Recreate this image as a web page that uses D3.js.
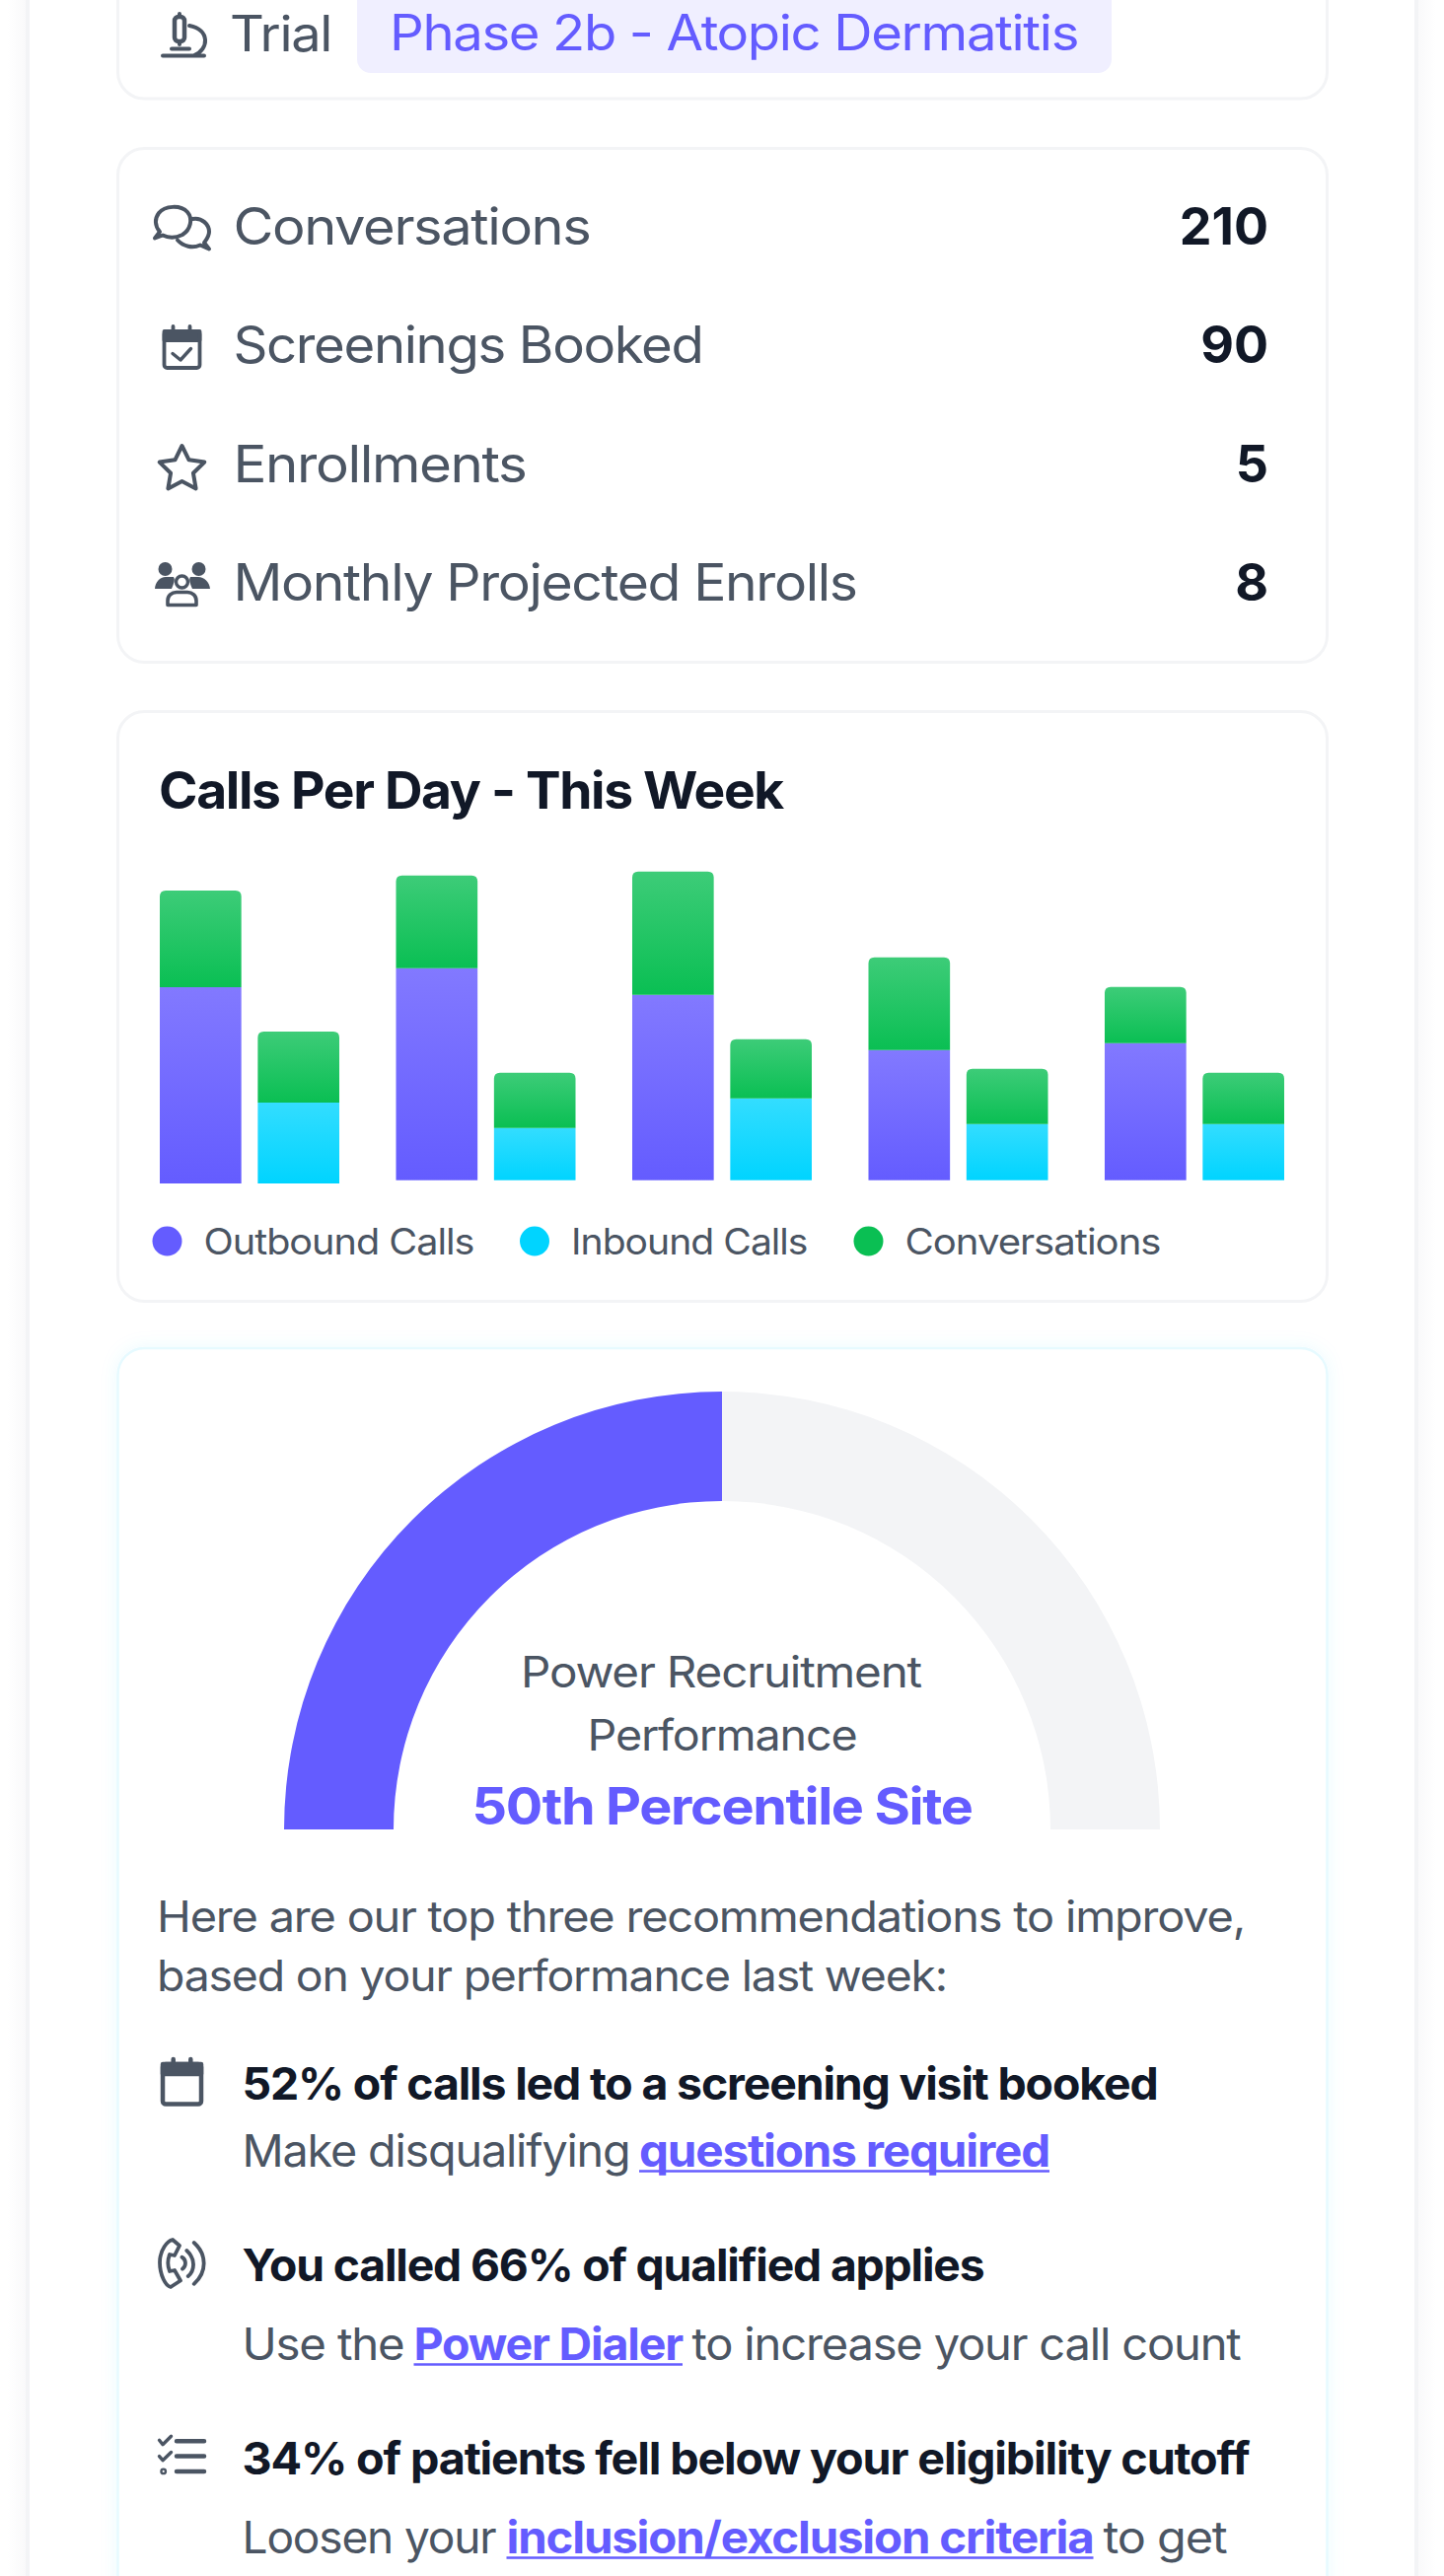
<!DOCTYPE html>
<html>
<head>
<meta charset="utf-8">
<script src="https://cdn.jsdelivr.net/npm/d3@7"></script>
<style>
html,body{margin:0;padding:0;background:#fff;}
svg{display:block;}
text{font-family:Inter,"Noto Sans",sans-serif;letter-spacing:-0.025em;}
</style>
</head>
<body>
<div id="chart"></div>
<script>
// ---------- chart data ----------
const days = ["Mon","Tue","Wed","Thu","Fri"];
const outboundCalls = [199,215,188,132,139];
const inboundCalls = [82,53,83,57,57];
const outboundConversations = [98,94,125,94,57];
const inboundConversations = [72,56,60,56,52];
const legendLabels = ["Outbound Calls","Inbound Calls","Conversations"];
const gaugeParts = [50,50];
const statLabels = ["Conversations","Screenings Booked","Enrollments","Monthly Projected Enrolls"];
const statValues = [210,90,5,8];

// ---------- page ----------
const W = 1464, H = 2612;
const INK="#111827", GREY="#4b5563", PURPLE="#645cff", CYAN="#00d4ff", GREEN="#0abf53";
const svg = d3.select("#chart").append("svg").attr("width",W).attr("height",H).attr("viewBox",`0 0 ${W} ${H}`);
const defs = svg.append("defs");
function grad(id,a,b){
  const g=defs.append("linearGradient").attr("id",id).attr("x1",0).attr("y1",0).attr("x2",0).attr("y2",1);
  g.append("stop").attr("offset",0).attr("stop-color",a);
  g.append("stop").attr("offset",1).attr("stop-color",b);
}
grad("gOut","#8279ff",PURPLE); grad("gIn","#33ddff",CYAN); grad("gConv","#3dcc78",GREEN);
const sL=defs.append("linearGradient").attr("id","sideL");
sL.append("stop").attr("offset",0).attr("stop-color","#fff");
sL.append("stop").attr("offset",1).attr("stop-color","#f9f9fa");
const sR=defs.append("linearGradient").attr("id","sideR");
sR.append("stop").attr("offset",0).attr("stop-color","#f9f9fa");
sR.append("stop").attr("offset",1).attr("stop-color","#fff");
defs.append("filter").attr("id","glow").attr("x","-5%").attr("y","-5%").attr("width","110%").attr("height","110%")
  .append("feDropShadow").attr("dx",0).attr("dy",0).attr("stdDeviation",9).attr("flood-color","#00d4ff").attr("flood-opacity",0.08);

function text(p,x,y,s,size,weight,color,width,anchor){
  const t=p.append("text").attr("x",x).attr("y",y).attr("font-size",size).attr("font-weight",weight).attr("fill",color).text(s);
  if(width){t.attr("textLength",width).attr("lengthAdjust","spacingAndGlyphs");}
  if(anchor){t.attr("text-anchor",anchor);}
  return t;
}
function card(y,h,stroke,sw){
  return svg.append("rect").attr("x",119.5).attr("y",y).attr("width",1226).attr("height",h).attr("rx",27)
    .attr("fill","#fff").attr("stroke",stroke||"#f3f4f6").attr("stroke-width",sw||3);
}
// outer container
svg.append("rect").attr("x",8).attr("y",0).attr("width",19).attr("height",H).attr("fill","url(#sideL)");
svg.append("rect").attr("x",1437).attr("y",0).attr("width",19).attr("height",H).attr("fill","url(#sideR)");
svg.append("rect").attr("x",28).attr("y",-20).attr("width",1408).attr("height",H+40).attr("fill","#fff").attr("stroke","#f3f4f6").attr("stroke-width",4);

// ---------- trial card ----------
card(-60,160);
text(svg,233,52,"Trial",50,400,GREY,103);
svg.append("rect").attr("x",362).attr("y",-30).attr("width",765).attr("height",104).attr("rx",14).attr("fill","#f0efff");
text(svg,395,51,"Phase 2b - Atopic Dermatitis",50,400,PURPLE,698);
const ic=(g)=>g.attr("fill","none").attr("stroke",GREY).attr("stroke-width",4).attr("stroke-linecap","round").attr("stroke-linejoin","round");
// microscope
const mic=ic(svg.append("g"));
mic.append("rect").attr("x",177).attr("y",17).attr("width",10).attr("height",25).attr("rx",4).attr("stroke-width",4.5);
mic.append("path").attr("d","M182 14V17M182 42V45M174 49.5H192M165 56.5H207M192 26C213 30 212 50 197 56");

// ---------- stats card ----------
card(150.5,521);
const statBase = d3.scalePoint().domain(statLabels).range([248,609]);
const statWidth = [362,476,297,632];
svg.append("g").selectAll("g").data(statLabels).join("g").each(function(d,i){
  const g=d3.select(this);
  text(g,236.5,statBase(d),d,52,400,GREY,statWidth[i]);
  text(g,1286,statBase(d),statValues[i],52,700,INK,null,"end").style("letter-spacing","0");
});
// chat icon
const chat=ic(svg.append("g")).attr("stroke-width",4);
chat.append("path").attr("d","M157 241.5L162 235C157 229 156.5 222 161 216C167 208.5 183 207.5 190 215C196 222 193 233 185 238C177 242 170 241 165 238.5Z");
chat.append("path").attr("d","M195 222C205 220 212 228 212 235C212 240 209 243 207 246L212 252.5L203 248.5C195 252 186 250 180 243.5");
// calendar-check icon
const cal=ic(svg.append("g")).attr("stroke-width",3.8);
cal.append("rect").attr("x",166.5).attr("y",336).attr("width",36).attr("height",37).attr("rx",3);
cal.append("path").attr("d","M175.5 331V336M192.5 331V336");
cal.append("rect").attr("x",166.5).attr("y",336).attr("width",36).attr("height",9).attr("fill",GREY);
cal.append("path").attr("d","M175 358.5L183 365L193.5 353.5").attr("stroke-width",3.4);
// star icon
const starPts=d3.range(10).map(i=>{const r=i%2?12:24,a=i*Math.PI/5;return [184.5+r*Math.sin(a),476-r*Math.cos(a)];});
ic(svg.append("path")).attr("stroke-width",4).attr("d",d3.line()(starPts)+"Z");
// people icon
const pp=svg.append("g").attr("fill",GREY);
pp.append("circle").attr("cx",167.5).attr("cy",577).attr("r",7);
pp.append("circle").attr("cx",201.5).attr("cy",577).attr("r",7);
pp.append("path").attr("d","M157 597C157.5 590 162 585 168 585H176C178 588 176 592 174 597Z");
pp.append("path").attr("d","M213 597C212.5 590 207 585 201 585H193C191 588 193 592 195 597Z");
pp.append("circle").attr("cx",184.5).attr("cy",590).attr("r",6).attr("fill","none").attr("stroke",GREY).attr("stroke-width",3.4);
pp.append("path").attr("d","M170 613.5V609C170 604 174 600.5 179 600.5H190C195 600.5 199 604 199 609V613.5Z").attr("fill","none").attr("stroke",GREY).attr("stroke-width",3.6).attr("stroke-linejoin","round");

// ---------- calls per day card ----------
card(721.5,598);
text(svg,161,820,"Calls Per Day - This Week",52,700,INK,633);
const baseline = 1196.7;
const x0 = d3.scaleBand().domain(days).range([162,1302]).paddingInner(0.24);
const x1 = d3.scaleBand().domain(["out","in"]).range([0,x0.bandwidth()]).paddingInner(0.168);
const y = d3.scaleLinear().domain([0,340]).range([baseline,baseline-340]);
const firstDayDrop = 3.3; // the first group sits slightly lower in the reference
const rows = days.flatMap((d,i)=>[
  {day:d,kind:"out",calls:outboundCalls[i],conv:outboundConversations[i]},
  {day:d,kind:"in",calls:inboundCalls[i],conv:inboundConversations[i]}
]);
function topRound(x,yT,w,yB,r){
  const p=d3.path();
  p.moveTo(x,yB); p.lineTo(x,yT+r); p.quadraticCurveTo(x,yT,x+r,yT);
  p.lineTo(x+w-r,yT); p.quadraticCurveTo(x+w,yT,x+w,yT+r); p.lineTo(x+w,yB); p.closePath();
  return p.toString();
}
const bars=svg.append("g").selectAll("g").data(rows).join("g")
  .attr("transform",d=>`translate(${x0(d.day)+x1(d.kind)},${d.day===days[0]?firstDayDrop:0})`);
bars.append("rect").attr("x",0).attr("width",x1.bandwidth())
  .attr("y",d=>y(d.calls)).attr("height",d=>y(0)-y(d.calls))
  .attr("fill",d=>d.kind==="out"?"url(#gOut)":"url(#gIn)");
bars.append("path").attr("d",d=>topRound(0,y(d.calls+d.conv),x1.bandwidth(),y(d.calls),6)).attr("fill","url(#gConv)");
const legendColor = d3.scaleOrdinal(legendLabels,[PURPLE,CYAN,GREEN]);
const legendDot = d3.scaleOrdinal(legendLabels,[169.5,542,880.5]);
const legendW = [274,239.5,259];
const leg=svg.append("g").selectAll("g").data(legendLabels).join("g");
leg.append("circle").attr("cx",d=>legendDot(d)).attr("cy",1258.5).attr("r",15).attr("fill",d=>legendColor(d));
leg.each(function(d,i){text(d3.select(this),legendDot(d)+37,1272,d,37,400,GREY,legendW[i]);});

// ---------- gauge card ----------
card(1367,1400,"#e6faff",2.5).attr("filter","url(#glow)");
const gCx=732,gCy=1855;
const pie=d3.pie().sort(null).startAngle(-Math.PI/2).endAngle(Math.PI/2);
const arc=d3.arc().innerRadius(333).outerRadius(444);
svg.append("g").attr("transform",`translate(${gCx},${gCy})`).selectAll("path").data(pie(gaugeParts)).join("path")
  .attr("d",arc).attr("fill",(d,i)=>i?"#f3f4f6":PURPLE);
text(svg,528,1710.5,"Power Recruitment",44,400,GREY,406);
text(svg,595.5,1775,"Performance",44,400,GREY,273);
text(svg,478.5,1850,"50th Percentile Site",52,700,PURPLE,507);

// ---------- recommendations ----------
text(svg,159,1959,"Here are our top three recommendations to improve,",44,400,GREY,1103);
text(svg,159,2019,"based on your performance last week:",44,400,GREY,801);
const recs=svg.append("g");
function link(x,yb,s,w){ text(recs,x,yb,s,45,700,PURPLE,w);
  recs.append("line").attr("x1",x).attr("x2",x+w).attr("y1",yb+4.5).attr("y2",yb+4.5).attr("stroke",PURPLE).attr("stroke-width",2.5);}
text(recs,245.5,2128.5,"52% of calls led to a screening visit booked",45,700,INK,928);
text(recs,245.5,2197,"Make disqualifying",45,400,GREY,393);
link(648,2197,"questions required",416);
text(recs,245.5,2312.5,"You called 66% of qualified applies",45,700,INK,752);
text(recs,245.5,2393,"Use the",45,400,GREY,164);
link(419.5,2393,"Power Dialer",272.5);
text(recs,701.5,2393,"to increase your call count",45,400,GREY,556);
text(recs,245.5,2509,"34% of patients fell below your eligibility cutoff",45,700,INK,1021);
text(recs,245.5,2589,"Loosen your",45,400,GREY,257);
link(513.5,2589,"inclusion/exclusion criteria",595);
text(recs,1118.5,2589,"to get",45,400,GREY,125);
// calendar icon
const c2=ic(svg.append("g")).attr("stroke-width",4.5);
c2.append("rect").attr("x",165).attr("y",2093).attr("width",39).attr("height",40.5).attr("rx",3);
c2.append("rect").attr("x",165).attr("y",2093).attr("width",39).attr("height",10).attr("fill",GREY);
c2.append("path").attr("d","M175.7 2088V2093M193.3 2088V2093");
// phone icon
const ph=ic(svg.append("g")).attr("stroke-width",3.8);
ph.append("path").attr("d","M175 2271C170 2272 162 2281 162 2294C162 2307 168 2318 173 2319L183 2312.5L177 2302L172 2303C170 2298 170 2291 172 2286L177 2287L182 2277Z");
ph.append("path").attr("d","M184.5 2288.7C189 2291 189 2298 185 2300.6M189.3 2282C198 2290 198 2302 190.7 2308M196.7 2274C210 2286 210 2304 196.7 2315.8");
// checklist icon
const cl=ic(svg.append("g")).attr("stroke-width",4.5);
cl.append("path").attr("d","M179 2475.3H207M179 2490.6H207M179 2505.9H207");
cl.append("path").attr("stroke-width",3.4).attr("d","M161.5 2474.3L165 2478.7L173.5 2470.2M161.5 2490.6L165 2494.7L173.5 2486.5");
cl.append("circle").attr("cx",165.7).attr("cy",2505.9).attr("r",1.2);
</script>
</body>
</html>
